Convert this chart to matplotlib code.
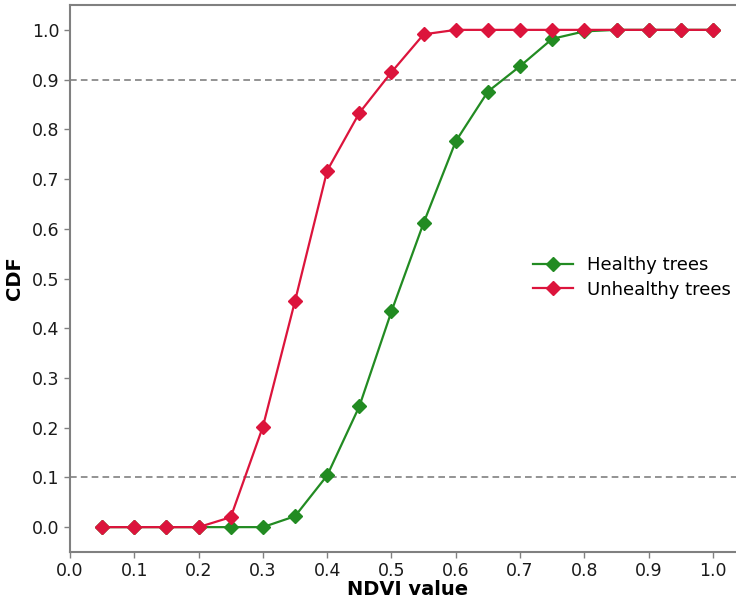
import matplotlib
matplotlib.use("Agg")
import matplotlib.pyplot as plt

ndvi = [0.05, 0.10, 0.15, 0.20, 0.25, 0.30, 0.35, 0.40, 0.45, 0.50,
        0.55, 0.60, 0.65, 0.70, 0.75, 0.80, 0.85, 0.90, 0.95, 1.00]
healthy = [0.0, 0.0, 0.0, 0.0, 0.0, 0.0, 0.022, 0.104, 0.243, 0.434,
           0.612, 0.776, 0.876, 0.927, 0.982, 0.997, 1.0, 1.0, 1.0, 1.0]
unhealthy = [0.0, 0.0, 0.0, 0.0, 0.02, 0.202, 0.455, 0.717, 0.833, 0.915,
             0.991, 1.0, 1.0, 1.0, 1.0, 1.0, 1.0, 1.0, 1.0, 1.0]
xticks = [0.0, 0.1, 0.2, 0.3, 0.4, 0.5, 0.6, 0.7, 0.8, 0.9, 1.0]
yticks = [0.0, 0.1, 0.2, 0.3, 0.4, 0.5, 0.6, 0.7, 0.8, 0.9, 1.0]
thresholds = [0.1, 0.9]

plt.rcParams['font.family'] = ['DejaVu Sans']
fig = plt.figure(figsize=(7.36, 6.0), dpi=100)
ax = fig.add_axes([70/736, 48/600, 1.05*643/736, 547/600])

for t in thresholds:
    ax.axhline(t, color='#808080', linestyle='--', linewidth=1.2, dashes=(4, 2.5))

ax.plot(ndvi, healthy, color='#228B22', marker='D', markersize=7, linewidth=1.6,
        label='Healthy trees')
ax.plot(ndvi, unhealthy, color='#DC143C', marker='D', markersize=7, linewidth=1.6,
        label='Unhealthy trees')

ax.set_xlim(0.0, 1.05)
ax.set_ylim(-0.05, 1.05)
ax.set_xticks(xticks)
ax.set_yticks(yticks)
ax.set_xticklabels([f"{v:.1f}" for v in xticks])
ax.set_yticklabels([f"{v:.1f}" for v in yticks])
ax.tick_params(labelsize=12.5, colors='#808080', labelcolor='#1a1a1a', length=4, width=1)
for s in ax.spines.values():
    s.set_color('#808080')
    s.set_linewidth(1.5)

ax.set_xlabel('NDVI value', fontsize=14, fontweight='bold', labelpad=0)
ax.set_ylabel('CDF', fontsize=14, fontweight='bold', labelpad=6)

ax.legend(loc='center left', bbox_to_anchor=(0.662, 0.502), frameon=False, fontsize=13,
          handlelength=2.2, handletextpad=0.8, labelspacing=0.35)

fig.savefig('out.png', dpi=100)
